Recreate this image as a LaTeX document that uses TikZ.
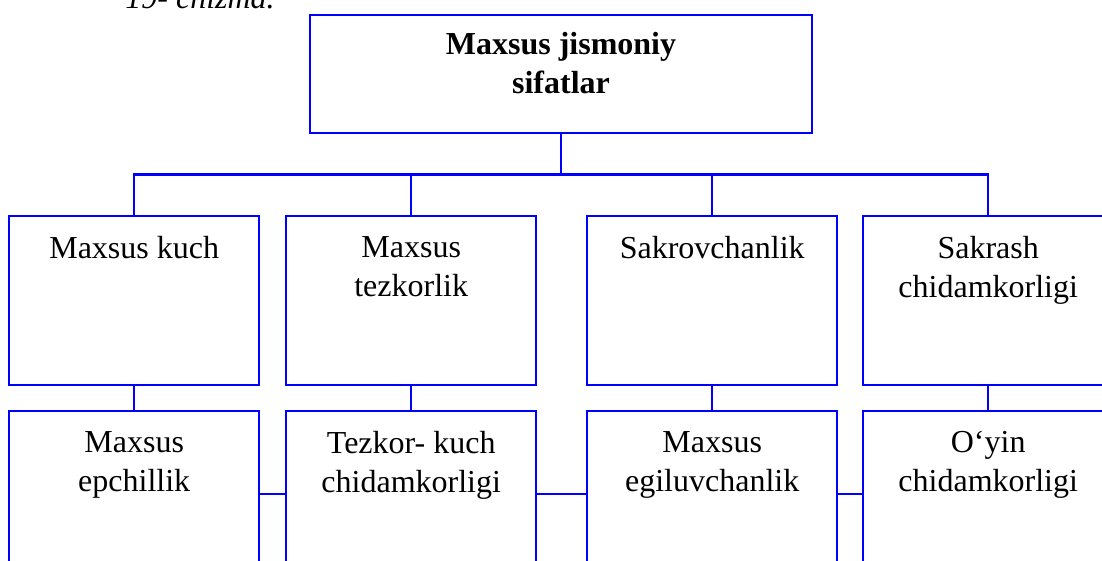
\documentclass[tikz,border=0pt]{standalone}
\usepackage{fontspec}
\setmainfont{Liberation Serif}
\usetikzlibrary{positioning}
\definecolor{wire}{RGB}{0,0,255}

\begin{document}
\begin{tikzpicture}[
  x=0.5pt, y=-0.5pt,
  font=\fontsize{16}{19.5}\selectfont,
  box/.style={draw=wire, line width=1.2pt, minimum width=125pt, minimum height=84.5pt,
              anchor=north west, inner sep=0pt},
  head/.style={draw=wire, line width=1.2pt, minimum width=251pt, minimum height=59pt,
               anchor=north, inner sep=0pt},
  txt/.style={anchor=north, align=center, inner sep=0pt, yshift=-10.5pt},
  link/.style={draw=wire, line width=1.2pt}
]
  \useasboundingbox (0,0) rectangle (1102,561);
  \clip (0,0) rectangle (1102,561);

  % caption, cut off at the top edge
  \node[anchor=base west, inner sep=0pt, font=\fontsize{16}{19.5}\selectfont\itshape] (cap) at (125,9) {19- chizma.};

  \node[head, label={[txt, yshift=1.5pt]north:\textbf{Maxsus jismoniy}\\\textbf{sifatlar}}] (sifat) at (561,14) {};

  % first row
  \node[box, label={[txt]north:Maxsus kuch}] (kuch) at (8,215) {};
  \node[box, label={[txt]north:Maxsus\\tezkorlik}] (tezkor) at (285,215) {};
  \node[box, label={[txt]north:Sakrovchanlik}] (sakrov) at (586,215) {};
  \node[box, label={[txt]north:Sakrash\\chidamkorligi}] (sakrash) at (862,215) {};

  % second row
  \node[box, label={[txt]north:Maxsus\\epchillik}] (epchil) at (8,410) {};
  \node[box, label={[txt]north:Tezkor- kuch\\chidamkorligi}] (tezkuch) at (285,410) {};
  \node[box, label={[txt]north:Maxsus\\egiluvchanlik}] (egil) at (586,410) {};
  \node[box, label={[txt]north:O‘yin\\chidamkorligi}] (oyin) at (862,410) {};

  \draw[link] (sifat.south) -- ++(0,40) coordinate (bus);
  \draw[link] (kuch.north) |- (bus) -| (sakrash.north);
  \draw[link] (tezkor.north) -- (tezkor.north |- bus);
  \draw[link] (sakrov.north) -- (sakrov.north |- bus);

  \draw[link] (kuch.south) -- (epchil.north);
  \draw[link] (tezkor.south) -- (tezkuch.north);
  \draw[link] (sakrov.south) -- (egil.north);
  \draw[link] (sakrash.south) -- (oyin.north);

  \draw[link] ([yshift=-42pt]epchil.north east) -- ([yshift=-42pt]tezkuch.north west);
  \draw[link] ([yshift=-42pt]tezkuch.north east) -- ([yshift=-42pt]egil.north west);
  \draw[link] ([yshift=-42pt]egil.north east) -- ([yshift=-42pt]oyin.north west);
\end{tikzpicture}
\end{document}
